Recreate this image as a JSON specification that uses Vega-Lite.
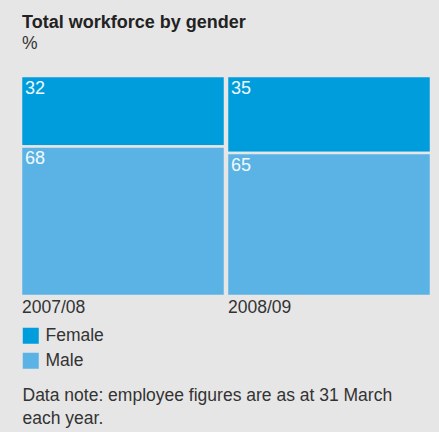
{
  "$schema": "https://vega.github.io/schema/vega-lite/v6.json",
  "width": 410,
  "height": 220,
  "autosize": {"type": "none"},
  "padding": {"left": 21, "top": 76, "right": 8, "bottom": 136},
  "background": "#e6e6e6",
  "config": {
    "view": {"stroke": null},
    "font": "Liberation Sans"
  },
  "title": {
    "text": "Total workforce by gender",
    "subtitle": "%",
    "anchor": "start",
    "frame": "group",
    "fontSize": 18,
    "fontWeight": "bold",
    "color": "#222222",
    "subtitleFontSize": 17.5,
    "subtitleColor": "#333333",
    "subtitlePadding": 3,
    "offset": 22,
    "dx": 1
  },
  "data": {
    "values": [
      {"year": "2007/08", "gender": "Female", "value": 32},
      {"year": "2007/08", "gender": "Male", "value": 68},
      {"year": "2008/09", "gender": "Female", "value": 35},
      {"year": "2008/09", "gender": "Male", "value": 65}
    ]
  },
  "transform": [
    {"stack": "value", "groupby": ["year"], "as": ["v0", "v1"], "sort": [{"field": "gender", "order": "descending"}]}
  ],
  "layer": [
    {
      "mark": {"type": "bar", "stroke": "#e6e6e6", "strokeWidth": 2.5},
      "encoding": {
        "x": {
          "field": "year",
          "type": "nominal",
          "scale": {"paddingInner": 0.0097, "paddingOuter": 0},
          "axis": {
            "title": ["Data note: employee figures are as at 31 March", "each year."],
            "titleFontSize": 17.5,
            "titleFontWeight": "normal",
            "titleColor": "#333333",
            "titleAlign": "left",
            "titleAnchor": "start",
            "titleBaseline": "top",
            "titleLineHeight": 23,
            "titleX": 1,
            "titleY": 90,
            "labelAngle": 0,
            "labelAlign": "left",
            "labelBaseline": "top",
            "labelPadding": 2,
            "labelFontSize": 17.5,
            "labelColor": "#333333",
            "labelOffset": -101,
            "domain": false,
            "ticks": false
          }
        },
        "y": {"field": "v1", "type": "quantitative", "scale": {"domain": [0, 100]}, "axis": null},
        "y2": {"field": "v0"},
        "color": {
          "field": "gender",
          "type": "nominal",
          "scale": {"domain": ["Female", "Male"], "range": ["#009ddc", "#5ab3e4"]},
          "legend": {
            "title": null,
            "orient": "none",
            "legendX": 1,
            "legendY": 251,
            "padding": 0,
            "symbolType": "square",
            "symbolSize": 256,
            "symbolStrokeWidth": 0,
            "symbolOpacity": 1,
            "labelFontSize": 17.5,
            "labelColor": "#333333",
            "labelOffset": 6,
            "rowPadding": 6
          }
        }
      }
    },
    {
      "mark": {"type": "text", "align": "left", "baseline": "top", "dx": 4, "dy": 4, "fontSize": 18, "color": "#f2f9fd"},
      "encoding": {
        "x": {"field": "year", "type": "nominal", "bandPosition": 0},
        "y": {"field": "v1", "type": "quantitative"},
        "text": {"field": "value", "type": "quantitative"}
      }
    }
  ]
}
